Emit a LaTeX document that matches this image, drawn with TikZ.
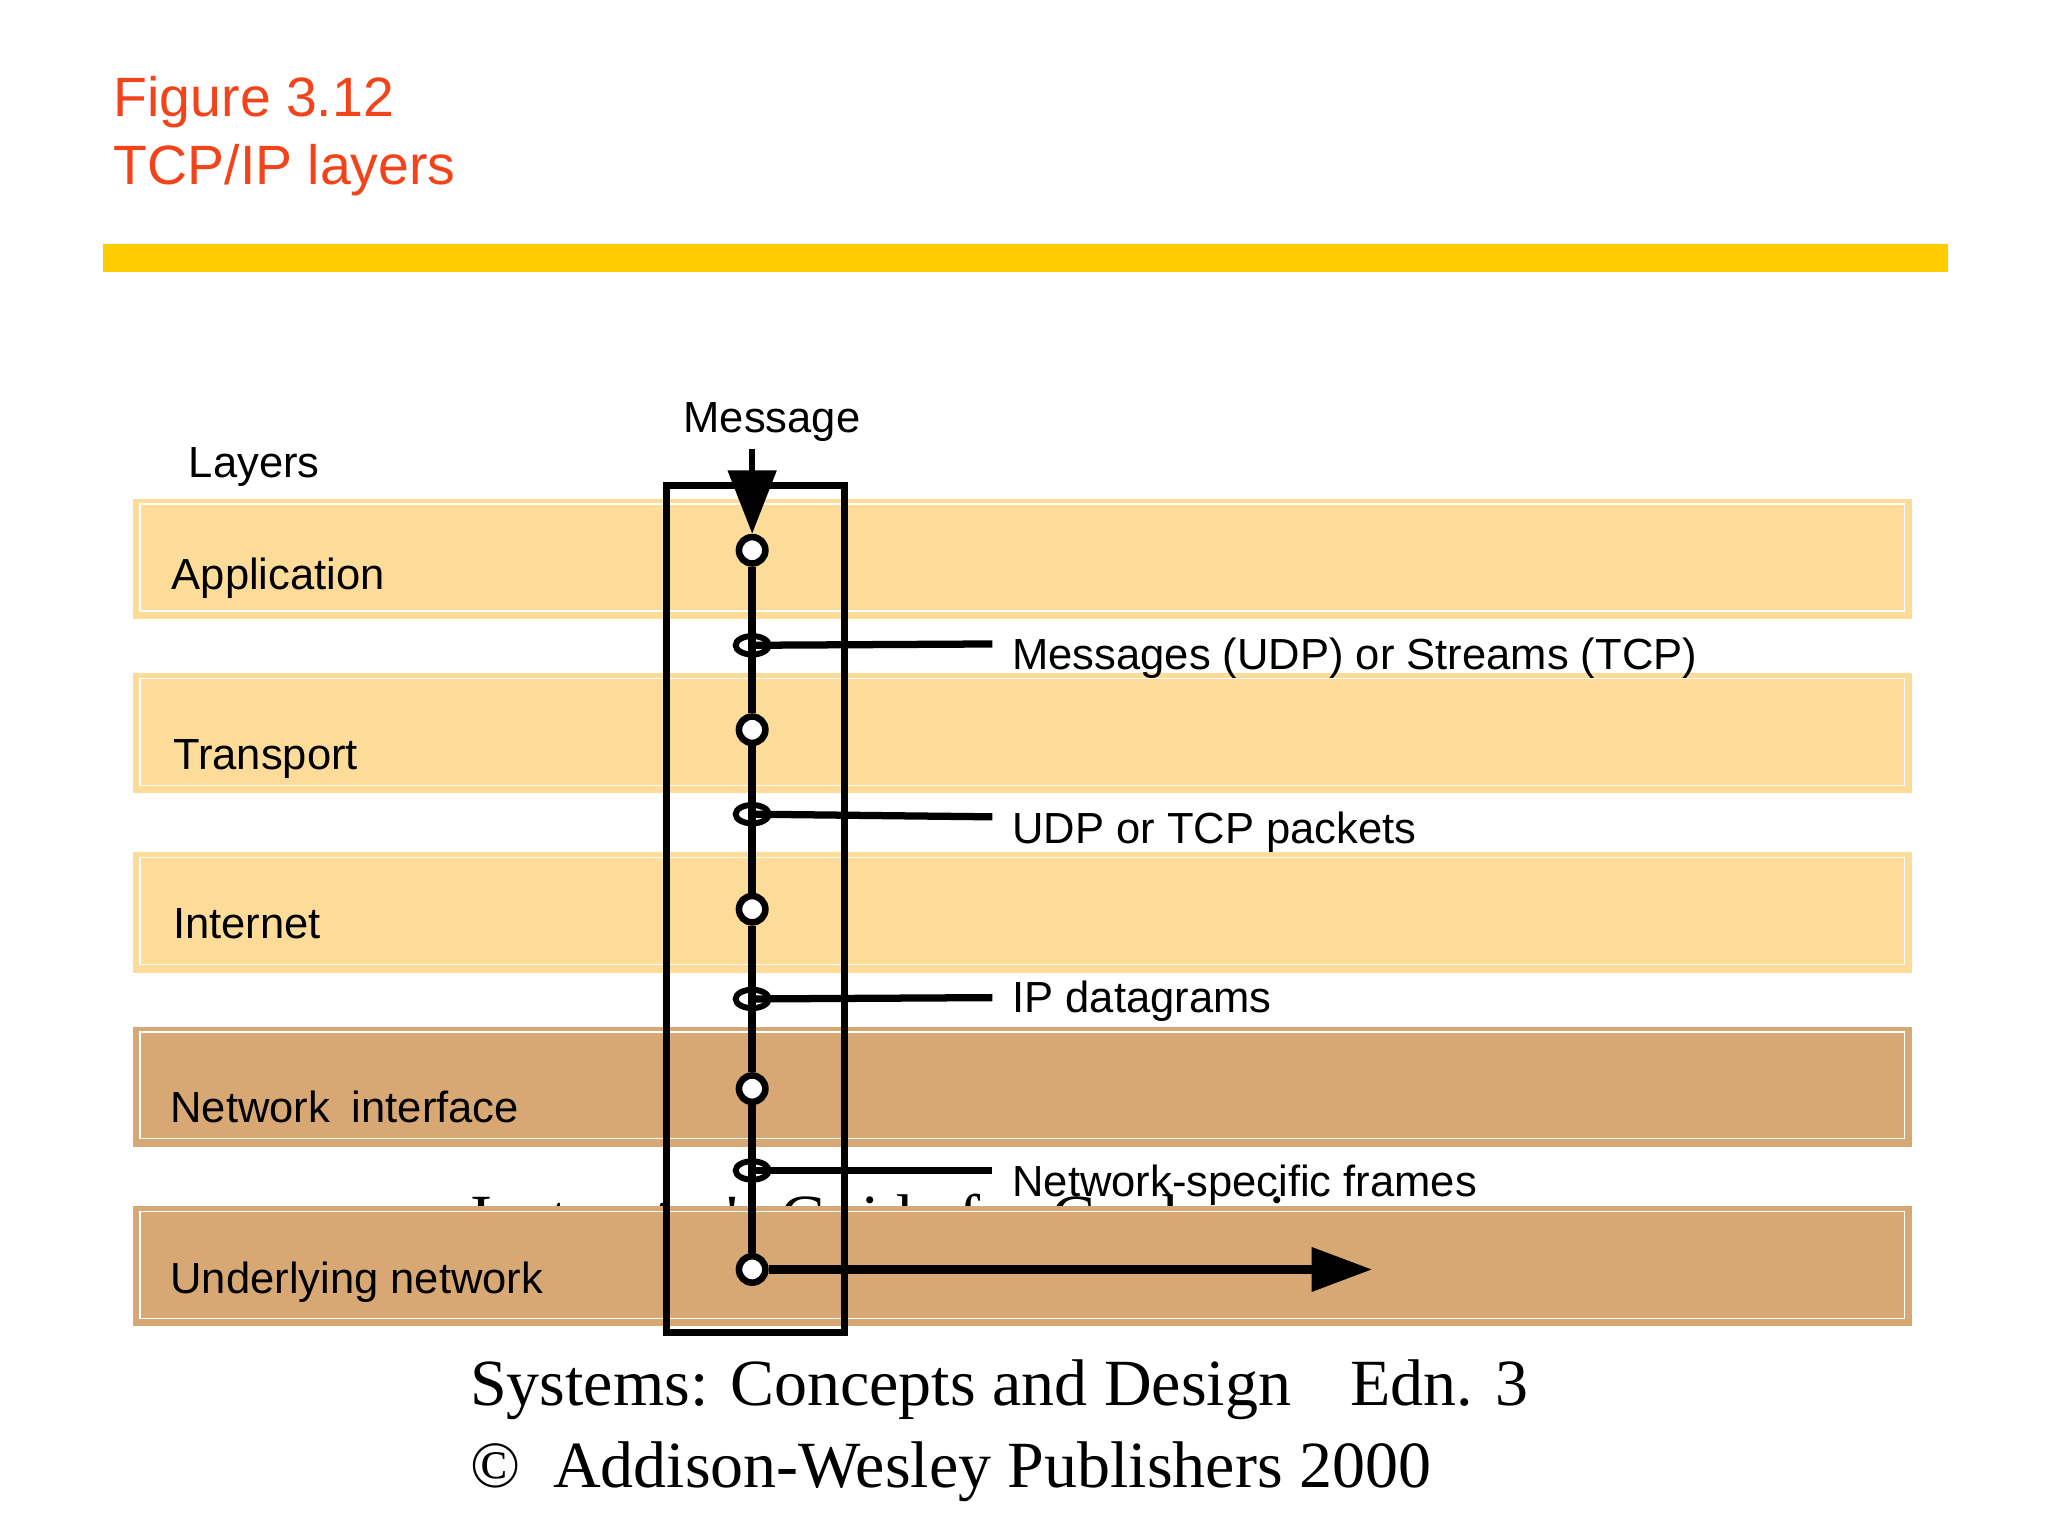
\documentclass[tikz,border=0pt]{standalone}
\usepackage{fontspec}
\setmainfont{Liberation Sans}
\newfontfamily\serifft{Liberation Serif}
\usetikzlibrary{arrows.meta,shapes.geometric}
\definecolor{titlered}{HTML}{F2431A}
\definecolor{baryellow}{HTML}{FFCC00}
\definecolor{lightband}{HTML}{FDDC9A}
\definecolor{darkband}{HTML}{D8A874}
\tikzset{
  layerlbl/.style={anchor=base west, inner sep=0pt, font=\fontsize{33}{38}\selectfont},
  unitlbl/.style={anchor=base west, inner sep=0pt, font=\fontsize{33}{38}\selectfont},
  footer/.style={anchor=base west, inner sep=0pt, font=\serifft\fontsize{50}{56}\selectfont},
  stop/.style={circle, draw, line width=5pt, fill=white, minimum size=20pt, inner sep=0pt},
  pkt/.style={ellipse, draw, line width=4.5pt, minimum width=25pt, minimum height=14pt, inner sep=0pt},
  thick line/.style={line width=6.5pt},
}
\begin{document}
\begin{tikzpicture}[x=1pt,y=-1pt]
\useasboundingbox (0,0) rectangle (1552,1164);
\fill[white] (0,0) rectangle (1552,1164);
% title
\node[anchor=base west, inner sep=0pt, text=titlered, font=\fontsize{42}{48}\selectfont] (t1) at (86,88) {Figure 3.12};
\node[anchor=base west, inner sep=0pt, text=titlered, font=\fontsize{42}{48}\selectfont] (t2) at (86,140) {TCP/IP layers};
\fill[baryellow] (78,185) rectangle (1476,206);
% footer (partly hidden behind bands)
\node[footer] (f1) at (356,940) {Instructor's Guide for Coulouris,};
\node[footer] (f2) at (356,993) {Dollimore and Kindberg Distributed};
\node[footer] (f3) at (356,1065) {Systems: Concepts and Design\hspace{0.9em}Edn. 3};
\node[footer] (f4) at (356,1127) {\textcopyright\hspace{0.5em}Addison-Wesley Publishers 2000};
% bands
\foreach \y/\c in {378/lightband,510/lightband,646/lightband,778/darkband,914/darkband}{
  \fill[\c] (101,\y) rectangle (1449,\y+91);
  \draw[white, line width=1pt] (106,\y+4) rectangle (1443,\y+85);
}
% labels
\node[anchor=base west, inner sep=0pt, font=\fontsize{33}{38}\selectfont] (lay) at (143,362) {Layers};
\node[anchor=base, inner sep=0pt, font=\fontsize{33}{38}\selectfont] (msg) at (585,328) {Message};
\node[layerlbl] (la) at (130,447) {Application};
\node[layerlbl] (lt) at (131,583) {Transport};
\node[layerlbl] (li) at (131,711) {Internet};
\node[layerlbl] (ln) at (129,851) {Network\hspace{0.5em}interface};
\node[layerlbl] (lu) at (129,980) {Underlying network};
% box
\draw[line width=5.5pt] (505,368) rectangle (640,1010);
% stops
\node[stop] (s1) at (570,417) {};
\node[stop] (s2) at (570,553) {};
\node[stop] (s3) at (570,689) {};
\node[stop] (s4) at (570,825) {};
\node[stop] (s5) at (570,962) {};
\draw[thick line] (s1) -- (s2) -- (s3) -- (s4) -- (s5);
\node[pkt] (p1) at (570,489) {};
\node[pkt] (p2) at (570,617) {};
\node[pkt] (p3) at (570,757) {};
\node[pkt] (p4) at (570,887) {};
\coordinate (e1) at (752,488);
\coordinate (e2) at (752,619);
\coordinate (e3) at (752,756);
\coordinate (e4) at (752,887);
\foreach \i in {1,...,4}{\draw[line width=5.5pt] (p\i.center) -- (e\i);}
\node[unitlbl] (u1) at (767,507) {Messages (UDP) or Streams (TCP)};
\node[unitlbl] (u2) at (767,639) {UDP or TCP packets};
\node[unitlbl] (u3) at (767,767) {IP datagrams};
\node[unitlbl] (u4) at (767,907) {Network-specific frames};
% arrows
\coordinate (top) at (570,340);
\draw[line width=5pt, -{Triangle[length=48pt,width=36pt]}] (top) -- (s1.north);
\coordinate (out) at (1040,962);
\draw[line width=7pt, -{Triangle[length=46pt,width=32pt]}] (s5) -- (out);
\end{tikzpicture}
\end{document}
